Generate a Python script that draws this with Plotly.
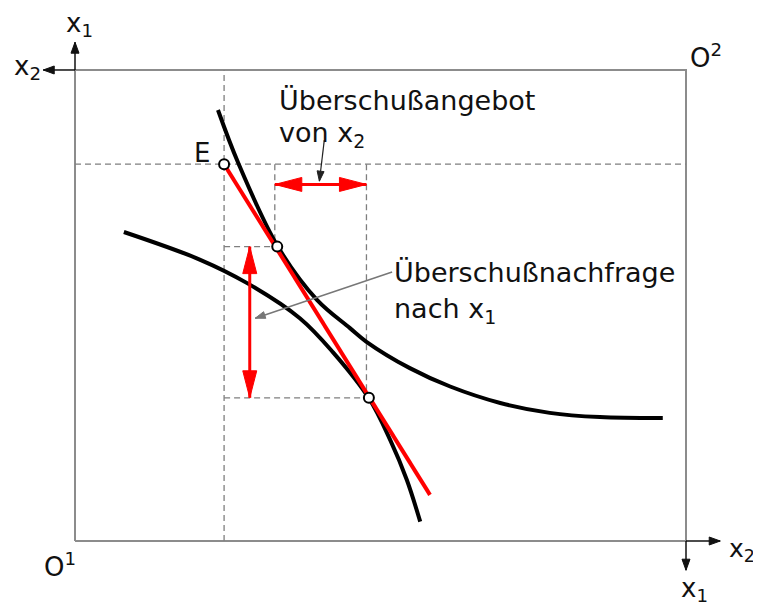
import math
import plotly.graph_objects as go

# ---------------- data (box units: horizontal = x2, vertical = x1, box = 0..10) ----------------
box_x = [0, 10]
box_y = [0, 10]

endowment_E = (2.44, 8.00)

# indifference curve of household 1 (convex to O1)
ic1_x = [2.34, 2.67, 3.32, 3.96, 4.50, 4.77, 5.48, 6.14, 6.96, 7.77, 8.59, 9.62]
ic1_y = [9.15, 8.03, 6.25, 5.12, 4.52, 4.23, 3.67, 3.28, 2.93, 2.72, 2.63, 2.61]

# indifference curve of household 2 (convex to O2)
ic2_x = [0.80, 2.05, 2.81, 3.68, 4.22, 4.81, 5.16, 5.43, 5.65]
ic2_y = [6.56, 5.97, 5.48, 4.73, 4.01, 3.03, 2.14, 1.30, 0.41]

# budget (price) line through E
budget_x = [2.44, 5.81]
budget_y = [8.00, 0.98]

# optimum points on the budget line
opt_A = (3.31, 6.25)
opt_B = (4.81, 3.04)

# excess supply / demand arrows
excess_supply_y = 7.57
excess_demand_x = 2.86

# label texts
txt_supply = ["Überschußangebot", "von x<sub>2</sub>"]
txt_demand = ["Überschußnachfrage", "nach x<sub>1</sub>"]

# ---------------- styling / scale ----------------
W, H = 753, 597          # page body adds an 8px offset
XR = [-1.0966, 11.2275]
YR = [-1.3588, 11.316]
PX_X = W / (XR[1] - XR[0])
PX_Y = H / (YR[1] - YR[0])

GRAY = "#8c8c8c"
DASH = "#7f7f7f"
RED = "#ff0000"
TXT = "#111111"
FONT = "DejaVu Sans"

fig = go.Figure()


def line(xs, ys, color, width, dash=None, shape="linear"):
    fig.add_trace(go.Scatter(x=xs, y=ys, mode="lines", hoverinfo="skip",
                             line=dict(color=color, width=width, dash=dash, shape=shape)))


def head(tip, tail, length, width, color):
    dx = (tip[0] - tail[0]) * PX_X
    dy = (tip[1] - tail[1]) * PX_Y
    n = math.hypot(dx, dy)
    ux, uy = dx / n, dy / n
    bx = tip[0] * PX_X - ux * length
    by = tip[1] * PX_Y - uy * length
    px, py = -uy * width / 2, ux * width / 2
    xs = [tip[0], (bx + px) / PX_X, (bx - px) / PX_X, tip[0]]
    ys = [tip[1], (by + py) / PX_Y, (by - py) / PX_Y, tip[1]]
    fig.add_trace(go.Scatter(x=xs, y=ys, mode="lines", fill="toself", fillcolor=color,
                             line=dict(color=color, width=1), hoverinfo="skip"))


def arrow(tail, tip, color, width, hl, hw, both=False):
    line([tail[0], tip[0]], [tail[1], tip[1]], color, width)
    head(tip, tail, hl, hw, color)
    if both:
        head(tail, tip, hl, hw, color)


# box
line([box_x[0], box_x[1], box_x[1], box_x[0], box_x[0]],
     [box_y[0], box_y[0], box_y[1], box_y[1], box_y[0]], GRAY, 2)

# axis arrows at O1 (top-left of axes) and at O2 corner (bottom-right)
arrow((box_x[0], box_y[1]), (box_x[0], 10.59), "#111", 1.5, 11, 8)
arrow((box_x[0], box_y[1]), (-0.52, box_y[1]), "#111", 1.5, 11, 8)
arrow((box_x[1], box_y[0]), (10.56, box_y[0]), "#111", 1.5, 11, 8)
arrow((box_x[1], box_y[0]), (box_x[1], -0.62), "#111", 1.5, 11, 8)

# dashed guide lines
ex, ey = endowment_E
line([ex, ex], [box_y[0], box_y[1]], DASH, 1.3, "6px,4px")
line([box_x[0], box_x[1]], [ey, ey], DASH, 1.3, "6px,4px")
line([ex, opt_A[0]], [opt_A[1], opt_A[1]], DASH, 1.3, "6px,4px")
line([opt_A[0] - 0.04, opt_A[0] - 0.04], [ey, opt_A[1]], DASH, 1.3, "6px,4px")
line([ex, opt_B[0]], [opt_B[1], opt_B[1]], DASH, 1.3, "6px,4px")
line([opt_B[0] - 0.04, opt_B[0] - 0.04], [ey, opt_B[1]], DASH, 1.3, "6px,4px")

# indifference curves
line(ic1_x, ic1_y, "#000", 4, shape="spline")
line(ic2_x, ic2_y, "#000", 4, shape="spline")

# budget line
line(budget_x, budget_y, RED, 4)

# red double arrows
arrow((opt_A[0] - 0.04, excess_supply_y), (opt_B[0] - 0.04, excess_supply_y), RED, 3, 27, 14, both=True)
arrow((excess_demand_x, opt_A[1]), (excess_demand_x, opt_B[1]), RED, 3, 27, 14, both=True)

# pointer lines
arrow((4.08, 8.51), (4.00, 7.64), "#222", 1.2, 10, 7)
arrow((5.19, 5.71), (2.95, 4.73), "#777", 1.5, 10, 7)

# points
fig.add_trace(go.Scatter(x=[ex, opt_A[0], opt_B[0]], y=[ey, opt_A[1], opt_B[1]], mode="markers",
                         hoverinfo="skip",
                         marker=dict(symbol="circle", size=10, color="white",
                                     line=dict(color="#000", width=2))))


def label(x, y, text, size, xanchor="left", yanchor="middle"):
    fig.add_annotation(x=x, y=y, text=text, showarrow=False, xanchor=xanchor, yanchor=yanchor,
                       font=dict(family=FONT, size=size, color=TXT))


label(3.30, 9.36, txt_supply[0], 27)
label(3.30, 8.64, txt_supply[1], 27)
label(5.18, 5.71, txt_demand[0], 27)
label(5.18, 4.90, txt_demand[1], 27)
label(2.08, 8.24, "E", 26, xanchor="center")
label(-0.25, -0.51, "O<sup>1</sup>", 26, xanchor="center")
label(10.03, 10.30, "O<sup>2</sup>", 26)
label(-0.18, 10.96, "x<sub>1</sub>", 26)
label(-1.03, 10.06, "x<sub>2</sub>", 26)
label(11.16, -0.19, "x<sub>2</sub>", 25, xanchor="right")
label(9.88, -1.04, "x<sub>1</sub>", 26)

fig.update_layout(
    width=W, height=H, margin=dict(l=0, r=0, t=0, b=0),
    paper_bgcolor="white", plot_bgcolor="white", showlegend=False,
    xaxis=dict(range=XR, visible=False, fixedrange=True),
    yaxis=dict(range=YR, visible=False, fixedrange=True),
)

fig.write_html("out.html")
